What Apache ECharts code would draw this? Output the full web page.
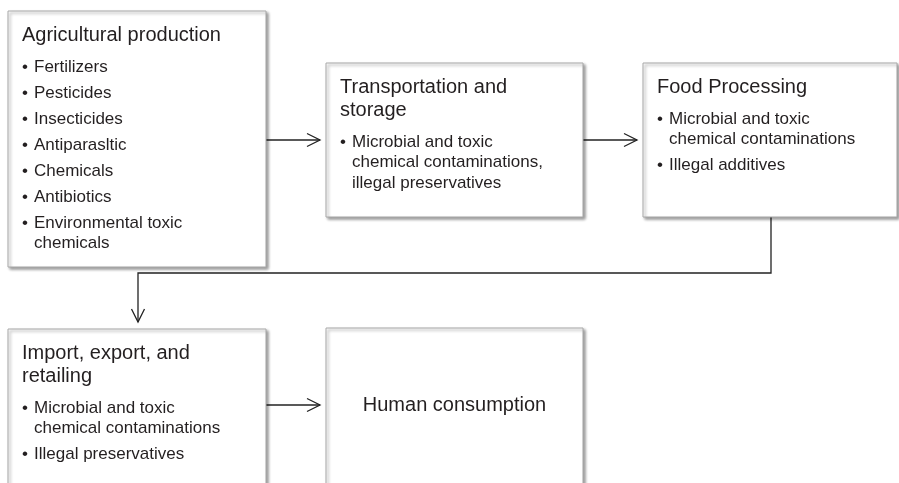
<!DOCTYPE html>
<html>
<head>
<meta charset="utf-8">
<script src="https://cdn.jsdelivr.net/npm/echarts@6/dist/echarts.min.js"></script>
<style>
	html, body { margin: 0; background: #fff; }
	#main { width: 899px; height: 483px; }
</style>
</head>
<body>
<div id="main"></div>
<script>
// Stages of the food chain, in flow order
const stageTitles = [
	['Agricultural production'],
	['Transportation and', 'storage'],
	['Food Processing'],
	['Import, export, and', 'retailing'],
	['Human consumption']
];
// Hazards per stage (each bullet split into its printed lines)
const stageHazards = [
	[['Fertilizers'], ['Pesticides'], ['Insecticides'], ['Antiparasltic'], ['Chemicals'], ['Antibiotics'], ['Environmental toxic', 'chemicals']],
	[['Microbial and toxic', 'chemical contaminations,', 'illegal preservatives']],
	[['Microbial and toxic', 'chemical contaminations'], ['Illegal additives']],
	[['Microbial and toxic', 'chemical contaminations'], ['Illegal preservatives']],
	[]
];
const flowLinks = [[0, 1], [1, 2], [2, 3], [3, 4]];

// Layout (pixel units of the hidden axes)
const boxRects = [
	[8, 11, 266, 267],
	[326, 63, 583, 217],
	[643, 63, 897, 217],
	[8, 329, 266, 490],
	[326, 328, 583, 490]
];
const linkRoutes = [
	[[266, 140], [320, 140]],
	[[583, 140], [637, 140]],
	[[771, 217], [771, 273], [138, 273], [138, 322]],
	[[266, 405], [320, 405]]
];
const centeredLabelY = 405;

const textColor = '#231f20';
const fontFamily = '"Liberation Sans", Arial, sans-serif';
const titleSize = 20;
const itemSize = 17;

const myChart = echarts.init(document.getElementById('main'), null, { renderer: 'canvas' });

function textEl(api, str, x, baseline, size, align) {
	const p = api.coord([x, baseline - size * 0.34]);
	return {
		type: 'text',
		style: {
			text: str,
			x: p[0],
			y: p[1],
			fill: textColor,
			fontSize: size,
			fontFamily: fontFamily,
			align: align || 'left',
			verticalAlign: 'middle'
		}
	};
}

function renderBox(params, api) {
	const i = api.value(0);
	const r = boxRects[i];
	const p0 = api.coord([r[0], r[1]]);
	const p1 = api.coord([r[2], r[3]]);
	const children = [{
		type: 'rect',
		shape: { x: p0[0], y: p0[1], width: p1[0] - p0[0], height: p1[1] - p0[1] },
		style: {
			fill: '#fff',
			stroke: '#a8a8a8',
			lineWidth: 1,
			shadowBlur: 3,
			shadowOffsetX: 2,
			shadowOffsetY: 2,
			shadowColor: 'rgba(0,0,0,0.4)'
		}
	}];
	const titleX = r[0] + 14;
	const hazards = stageHazards[i];
	if (!hazards.length) {
		// box with only a name: centred on the incoming arrow
		children.push(textEl(api, stageTitles[i][0], (r[0] + r[2]) / 2, centeredLabelY + titleSize * 0.34, titleSize, 'center'));
		return { type: 'group', children: children };
	}
	let y = r[1] + 31;
	stageTitles[i].forEach(function (line, k) {
		if (k > 0) y += 23;
		children.push(textEl(api, line, titleX, y, titleSize));
	});
	y += 31;
	hazards.forEach(function (bullet, b) {
		if (b > 0) y += 26;
		children.push(textEl(api, '•', titleX, y, itemSize));
		bullet.forEach(function (line, k) {
			if (k > 0) y += 20.5;
			children.push(textEl(api, line, titleX + 12, y, itemSize));
		});
	});
	return { type: 'group', children: children };
}

function renderLink(params, api) {
	const pts = linkRoutes[api.value(0)].map(function (p) { return api.coord(p); });
	const n = pts.length;
	const tip = pts[n - 1];
	const prev = pts[n - 2];
	const dx = tip[0] - prev[0];
	const dy = tip[1] - prev[1];
	const len = Math.hypot(dx, dy);
	const ux = dx / len;
	const uy = dy / len;
	const back = 13;
	const half = 6.5;
	const a = [tip[0] - ux * back - uy * half, tip[1] - uy * back + ux * half];
	const b = [tip[0] - ux * back + uy * half, tip[1] - uy * back - ux * half];
	const lineStyle = { stroke: '#222', lineWidth: 1.3, fill: null };
	return {
		type: 'group',
		children: [
			{ type: 'polyline', shape: { points: pts }, style: lineStyle },
			{ type: 'polyline', shape: { points: [a, tip, b] }, style: lineStyle }
		]
	};
}

option = {
	animation: false,
	grid: { left: 0, right: 0, top: 0, bottom: 0 },
	xAxis: { type: 'value', min: 0, max: 899, show: false },
	yAxis: { type: 'value', min: 0, max: 483, inverse: true, show: false },
	series: [
		{
			type: 'custom',
			name: 'links',
			silent: true,
			clip: false,
			renderItem: renderLink,
			data: flowLinks.map(function (l, i) { return [i, l[0]]; })
		},
		{
			type: 'custom',
			name: 'stages',
			silent: true,
			clip: false,
			renderItem: renderBox,
			data: stageTitles.map(function (t, i) { return [i, i]; })
		}
	]
};
myChart.setOption(option);
</script>
</body>
</html>
